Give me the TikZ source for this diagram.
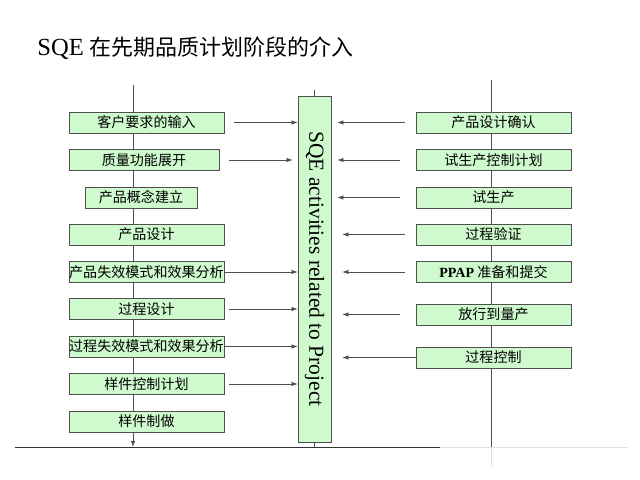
\documentclass[tikz,border=0pt]{standalone}
\usepackage{fontspec}
\setmainfont{Liberation Serif}
\newfontfamily\cjk{Noto Sans CJK SC}
\usetikzlibrary{positioning,arrows.meta}
\definecolor{boxgreen}{RGB}{206,250,206}
\definecolor{edgegray}{RGB}{80,80,80}

\begin{document}
\begin{tikzpicture}[
    x=0.02cm, y=-0.02cm,
    stagebox/.style={rectangle, draw=edgegray, fill=boxgreen, minimum width=3.1cm, minimum height=0.42cm, inner sep=0pt, font=\cjk\fontsize{8}{9}\selectfont},
    arrow/.style={-{Latex[length=3.5pt,width=2.6pt]}, draw=edgegray},
    flow/.style={draw=edgegray}
]
    \useasboundingbox (0,0) rectangle (640,480);

    % title
    \node[anchor=base west, inner sep=0pt] (title) at (37,55) {\fontsize{14}{16}\selectfont SQE {\cjk\fontsize{12.5}{15}\selectfont 在先期品质计划阶段的介入}};

    % process lines
    \coordinate (ltop) at (133,85);
    \coordinate (lend) at (133,447);
    \coordinate (rtop) at (491,80);
    \coordinate (rend) at (491,447);
    \coordinate (rfade) at (491,467);
    \coordinate (base0) at (15,447);
    \coordinate (base1) at (440,447);
    \coordinate (base2) at (628,447);
    \draw[arrow] (ltop) -- (lend);
    \draw[flow] (rtop) -- (rend);
    \draw[gray!25] (rend) -- (rfade);
    \draw[black!80] (base0) -- (base1);
    \draw[gray!25] (base1) -- (base2);

    % SQE bar
    \node[rectangle, draw=edgegray, fill=boxgreen, minimum width=0.66cm, minimum height=6.92cm, inner sep=0pt] (bar) at (314.5,269) {};
    \node[rotate=-90, font=\fontsize{12.2}{14}\selectfont] (bartext) at (bar.center) {SQE activities related to Project};
    \coordinate (bartop) at (314.5,90);
    \draw[flow] (bartop) -- (bar.north);
    \draw[flow] (bar.south) -- (bar.south |- base0);

    % left stages
    \node[stagebox] (l1) at (146.5,122.5) {客户要求的输入};
    \node[stagebox, minimum width=3.0cm] (l2) at (144,160) {质量功能展开};
    \node[stagebox, minimum width=2.24cm] (l3) at (141,197.5) {产品概念建立};
    \node[stagebox] (l4) at (146.5,234.5) {产品设计};
    \node[stagebox] (l5) at (146.5,272) {产品失效模式和效果分析};
    \node[stagebox] (l6) at (146.5,309) {过程设计};
    \node[stagebox] (l7) at (146.5,346.5) {过程失效模式和效果分析};
    \node[stagebox] (l8) at (146.5,384) {样件控制计划};
    \node[stagebox] (l9) at (146.5,421.5) {样件制做};

    % right stages
    \node[stagebox] (r1) at (493.5,122.5) {产品设计确认};
    \node[stagebox] (r2) at (493.5,160) {试生产控制计划};
    \node[stagebox] (r3) at (493.5,197.5) {试生产};
    \node[stagebox] (r4) at (493.5,234.5) {过程验证};
    \node[stagebox] (r5) at (493.5,272) {{\rmfamily\bfseries PPAP} 准备和提交};
    \node[stagebox] (r6) at (493.5,314.5) {放行到量产};
    \node[stagebox] (r7) at (493.5,357.5) {过程控制};

    % inputs to the bar
    \draw[arrow] ([xshift=0.2cm]l1.east) -- (l1 -| bar.west);
    \draw[arrow] ([xshift=0.2cm]l2.east) -- ([xshift=-0.1cm]l2 -| bar.west);
    \draw[arrow] (l5.east) -- (l5 -| bar.west);
    \draw[arrow] ([xshift=0.1cm]l6.east) -- (l6 -| bar.west);
    \draw[arrow] (l7.east) -- (l7 -| bar.west);
    \draw[arrow] ([xshift=0.1cm]l8.east) -- (l8 -| bar.west);

    \draw[arrow] ([xshift=-0.22cm]r1.west) -- ([xshift=0.12cm]r1 -| bar.east);
    \draw[arrow] ([xshift=-0.32cm]r2.west) -- ([xshift=0.12cm]r2 -| bar.east);
    \draw[arrow] ([xshift=-0.32cm]r3.west) -- ([xshift=0.12cm]r3 -| bar.east);
    \draw[arrow] ([xshift=-0.22cm]r4.west) -- ([xshift=0.22cm]r4 -| bar.east);
    \draw[arrow] ([xshift=-0.22cm]r5.west) -- ([xshift=0.22cm]r5 -| bar.east);
    \draw[arrow] ([xshift=-0.32cm]r6.west) -- ([xshift=0.22cm]r6 -| bar.east);
    \draw[arrow] (r7.west) -- ([xshift=0.22cm]r7 -| bar.east);
\end{tikzpicture}
\end{document}
